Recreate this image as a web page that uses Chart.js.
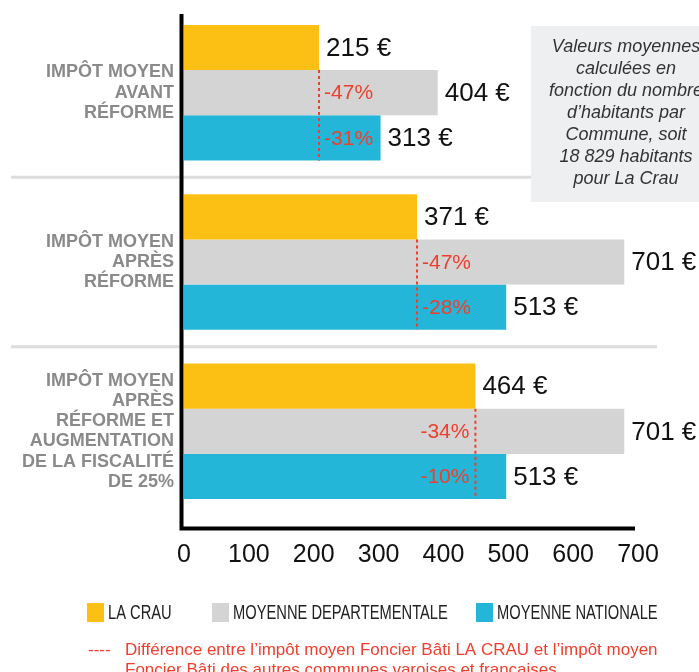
<!DOCTYPE html>
<html>
<head>
<meta charset="utf-8">
<script src="https://cdn.jsdelivr.net/npm/chart.js@4/dist/chart.umd.min.js"></script>
<style>
  html, body { margin: 0; padding: 0; background: #fff; }
  #wrap { width: 699px; height: 672px; }
</style>
</head>
<body>
<div id="wrap"><canvas id="impotChart" width="699" height="672"></canvas></div>
<script>
// groups on the vertical axis
const categories = [
    ['IMPÔT MOYEN', 'AVANT', 'RÉFORME'],
    ['IMPÔT MOYEN', 'APRÈS', 'RÉFORME'],
    ['IMPÔT MOYEN', 'APRÈS', 'RÉFORME ET', 'AUGMENTATION', 'DE LA FISCALITÉ', 'DE 25%']
];
const seriesNames = ['LA CRAU', 'MOYENNE DEPARTEMENTALE', 'MOYENNE NATIONALE'];
const laCrau = [215, 371, 464];
const moyenneDep = [404, 701, 701];
const moyenneNat = [313, 513, 513];
// écart LA CRAU vs moyennes (en %)
const ecartDep = [-47, -47, -34];
const ecartNat = [-31, -28, -10];
const tickValues = [0, 100, 200, 300, 400, 500, 600, 700];
const noteLines = [
    'Valeurs moyennes', 'calculées en', 'fonction du nombre',
    'd’habitants par', 'Commune, soit', '18 829 habitants', 'pour La Crau'
];
const legendNote = [
    'Différence entre l’impôt moyen Foncier Bâti LA CRAU et l’impôt moyen',
    'Foncier Bâti des autres communes varoises et francaises'
];

const colors = ['#fcc015', '#d4d4d4', '#23b6d8'];
const red = '#ef3f2c';
const FONT = '"Liberation Sans", Arial, sans-serif';

const decorations = {
    id: 'decorations',
    beforeDatasetsDraw(chart) {
        const { ctx, scales: { y } } = chart;
        ctx.save();
        ctx.strokeStyle = '#dcdcdc';
        ctx.lineWidth = 3;
        for (let i = 0; i < categories.length - 1; i++) {
            const yy = (y.getPixelForTick(i) + y.getPixelForTick(i + 1)) / 2;
            ctx.beginPath();
            ctx.moveTo(11, yy);
            ctx.lineTo(657, yy);
            ctx.stroke();
        }
        ctx.restore();
    },
    afterDatasetsDraw(chart) {
        const { ctx, chartArea, scales: { x, x2 } } = chart;
        ctx.save();

        // axis lines
        const axisY = chartArea.bottom + 12.5;
        ctx.strokeStyle = '#000';
        ctx.lineWidth = 4;
        ctx.beginPath();
        ctx.moveTo(chartArea.left - 2.5, 14);
        ctx.lineTo(chartArea.left - 2.5, axisY + 2);
        ctx.moveTo(chartArea.left - 4.5, axisY);
        ctx.lineTo(x2.getPixelForValue(700) - 3, axisY);
        ctx.stroke();

        // value labels
        ctx.fillStyle = '#111';
        ctx.font = '26px ' + FONT;
        ctx.textBaseline = 'middle';
        ctx.textAlign = 'left';
        chart.data.datasets.forEach((ds, i) => {
            chart.getDatasetMeta(i).data.forEach((bar, j) => {
                ctx.fillText(ds.data[j] + ' €', bar.x + 7, bar.y + 1);
            });
        });

        // dashed lines + percent labels
        const yellow = chart.getDatasetMeta(0).data;
        const grey = chart.getDatasetMeta(1).data;
        const blue = chart.getDatasetMeta(2).data;
        ctx.font = '21px ' + FONT;
        ctx.fillStyle = red;
        laCrau.forEach((v, j) => {
            const lx = x.getPixelForValue(v);
            const top = yellow[j].y + yellow[j].height / 2;
            const bottom = blue[j].y + blue[j].height / 2;
            ctx.strokeStyle = red;
            ctx.lineWidth = 2;
            ctx.setLineDash([3, 3]);
            ctx.beginPath();
            ctx.moveTo(lx, top);
            ctx.lineTo(lx, bottom);
            ctx.stroke();
            ctx.setLineDash([]);

            const t1 = ecartDep[j] + '%';
            const t2 = ecartNat[j] + '%';
            const w = Math.max(ctx.measureText(t1).width, ctx.measureText(t2).width);
            const fitsRight = blue[j].x - lx >= w + 7;
            ctx.textAlign = fitsRight ? 'left' : 'right';
            const tx = fitsRight ? lx + 5 : lx - 6;
            ctx.fillText(t1, tx, grey[j].y + 1);
            ctx.fillText(t2, tx, blue[j].y + 1);
        });
        ctx.restore();
    },
    afterDraw(chart) {
        const { ctx } = chart;
        ctx.save();

        // info box
        ctx.fillStyle = '#eeeff1';
        ctx.fillRect(531, 26, 180, 176);
        ctx.fillStyle = '#333';
        ctx.font = 'italic 18px ' + FONT;
        ctx.textAlign = 'center';
        ctx.textBaseline = 'middle';
        noteLines.forEach((line, i) => ctx.fillText(line, 626, 47 + i * 22));

        // legend
        const legendX = [87, 212, 476];
        ctx.textAlign = 'left';
        ctx.font = '21px ' + FONT;
        seriesNames.forEach((name, i) => {
            ctx.fillStyle = colors[i];
            ctx.fillRect(legendX[i], 603, 17, 19);
            ctx.fillStyle = '#222';
            ctx.save();
            ctx.translate(legendX[i] + 21, 613);
            ctx.scale(0.7, 1);
            ctx.fillText(name, 0, 0);
            ctx.restore();
        });

        // note under the legend
        ctx.fillStyle = red;
        ctx.font = '17px ' + FONT;
        ctx.textBaseline = 'alphabetic';
        ctx.fillText('----', 88, 655);
        legendNote.forEach((line, i) => ctx.fillText(line, 125, 655 + i * 20));
        ctx.restore();
    }
};

Chart.defaults.font.family = FONT;

new Chart(document.getElementById('impotChart'), {
    type: 'bar',
    data: {
        labels: categories,
        datasets: [
            { label: seriesNames[0], data: laCrau, backgroundColor: colors[0] },
            { label: seriesNames[1], data: moyenneDep, backgroundColor: colors[1] },
            { label: seriesNames[2], data: moyenneNat, backgroundColor: colors[2] }
        ]
    },
    options: {
        indexAxis: 'y',
        responsive: false,
        animation: false,
        layout: { padding: { top: 8, left: 0, right: 0, bottom: 0 } },
        datasets: {
            bar: { barPercentage: 1, categoryPercentage: 0.8, borderWidth: 0 }
        },
        scales: {
            y: {
                grid: { display: false, drawTicks: false },
                border: { display: false },
                ticks: {
                    color: '#8a8a8a',
                    padding: 10,
                    font: { size: 18, weight: 'bold', lineHeight: 1.12 }
                },
                afterFit: s => {
                    s.width = 184;
                    // multi-line labels must not shrink the plot area
                    s.paddingTop = 0;
                    s.paddingBottom = 0;
                }
            },
            x: {
                display: false,
                min: 0,
                max: 820
            },
            x2: {
                type: 'linear',
                position: 'bottom',
                min: 0,
                max: 794,
                grid: { display: false, drawTicks: false },
                border: { display: false },
                ticks: {
                    stepSize: 100,
                    color: '#111',
                    padding: 24,
                    font: { size: 25 }
                },
                afterBuildTicks: s => {
                    s.ticks = tickValues.map(v => ({ value: v }));
                },
                afterFit: s => { s.height = 156; }
            }
        },
        plugins: {
            legend: { display: false },
            tooltip: { enabled: false }
        }
    },
    plugins: [decorations]
});
</script>
</body>
</html>
